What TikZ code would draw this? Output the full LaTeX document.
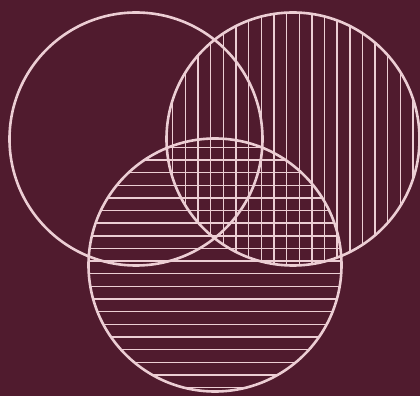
\documentclass[tikz,border=0pt]{standalone}
\definecolor{bgmaroon}{RGB}{80,27,46}
\definecolor{linepink}{RGB}{236,206,212}
\tikzset{
  ring/.style={draw=linepink, line width=2.6pt},
  hatch/.style={draw=linepink, line width=1.4pt}
}
\begin{document}
\begin{tikzpicture}[x=1pt,y=1pt]
  \fill[bgmaroon] (0,0) rectangle (420,396);
  \useasboundingbox (0,0) rectangle (420,396);
  \coordinate (L) at (136,257);
  \coordinate (R) at (293,257);
  \coordinate (B) at (215,131);
  \def\rad{126.5}
  % vertical hatching in right circle
  \begin{scope}
    \clip (R) circle (\rad);
    \foreach \k in {-3,...,18} {
      \draw[hatch] ({198+12.65*\k},0) -- ({198+12.65*\k},396);
    }
  \end{scope}
  % horizontal hatching in bottom circle
  \begin{scope}
    \clip (B) circle (\rad);
    \foreach \k in {-1,...,20} {
      \draw[hatch] (0,{396-147.3-12.65*\k}) -- (420,{396-147.3-12.65*\k});
    }
  \end{scope}
  \draw[ring] (L) circle (\rad);
  \draw[ring] (R) circle (\rad);
  \draw[ring] (B) circle (\rad);
\end{tikzpicture}
\end{document}
